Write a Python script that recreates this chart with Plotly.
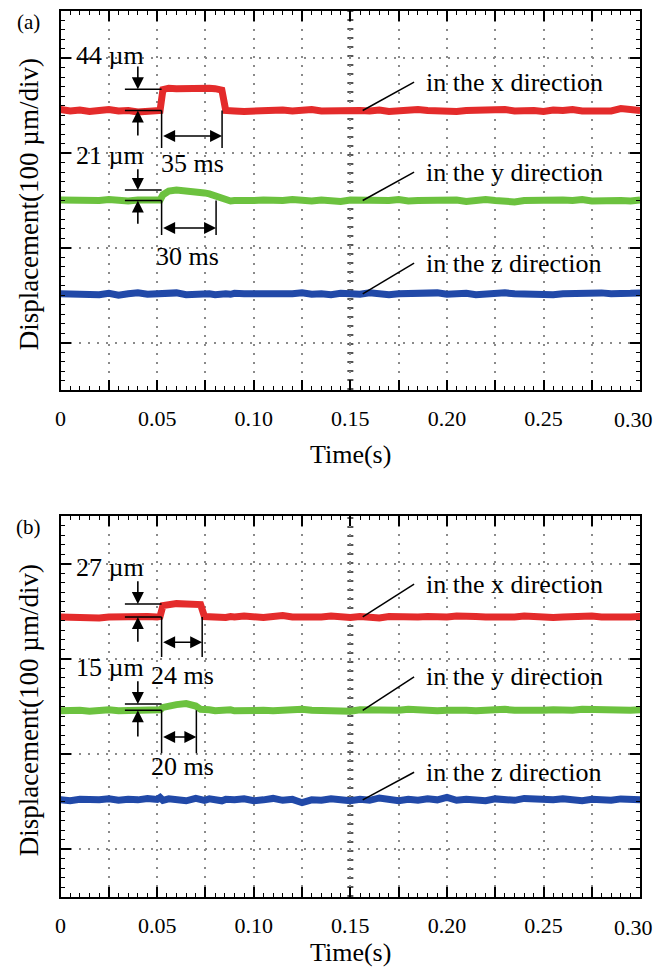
import plotly.graph_objects as go

# ---------------- data ----------------
TIME = [0, 0.005, 0.01, 0.015, 0.02, 0.025, 0.03, 0.035, 0.04, 0.045, 0.05,
        0.0515, 0.053, 0.056, 0.06, 0.065, 0.07, 0.0725, 0.0745, 0.077, 0.08,
        0.0835, 0.0855, 0.088, 0.09, 0.095,
        0.1, 0.105, 0.11, 0.115, 0.12, 0.125, 0.13, 0.135, 0.14, 0.145,
        0.15, 0.155, 0.16, 0.165, 0.17, 0.175, 0.18, 0.185, 0.19, 0.195,
        0.2, 0.205, 0.21, 0.215, 0.22, 0.225, 0.23, 0.235, 0.24, 0.245,
        0.25, 0.255, 0.26, 0.265, 0.27, 0.275, 0.28, 0.285, 0.29, 0.295, 0.3]

# panel (a), displacement in um (100 um per division)
X_DIR_A = [592, 589, 591, 588, 590, 592, 589, 590, 587, 588, 589,
           590, 634, 637, 636, 637, 636, 637, 636, 637, 636, 633, 590, 588, 589, 588,
           589, 590, 588, 591, 589, 590, 592, 589, 590, 588,
           591, 590, 589, 591, 588, 590, 589, 592, 590, 589,
           591, 588, 590, 591, 589, 590, 592, 589, 591, 590,
           588, 591, 590, 592, 589, 590, 591, 589, 594, 591, 590]
Y_DIR_A = [401, 400, 399, 401, 400, 402, 400, 399, 401, 400, 401,
           401, 412, 420, 422, 421, 419, 418, 416, 414, 410, 402, 400, 399, 400, 399,
           400, 401, 399, 400, 402, 400, 399, 401, 400, 398,
           401, 400, 399, 401, 400, 402, 399, 400, 401, 399,
           400, 401, 398, 400, 402, 400, 399, 397, 400, 401,
           399, 400, 401, 400, 402, 399, 400, 401, 400, 399, 401]
Z_DIR_A = [203, 202, 204, 203, 201, 204, 200, 203, 205, 202, 203,
           204, 202, 203, 205, 201, 203, 204, 202, 203, 201, 204, 203, 202, 204, 203,
           203, 201, 204, 202, 203, 205, 202, 203, 201, 204,
           203, 202, 205, 203, 201, 203, 204, 202, 203, 205,
           202, 203, 204, 201, 203, 202, 205, 203, 202, 204,
           203, 201, 203, 204, 202, 203, 205, 203, 202, 204, 205]

# panel (b)
X_DIR_B = [588, 587, 589, 588, 586, 588, 589, 587, 588, 589, 588,
           589, 612, 615, 616, 615, 616, 614, 589, 588, 590, 588, 587, 589, 588, 590,
           588, 587, 589, 591, 588, 587, 589, 588, 590, 588,
           587, 589, 588, 586, 589, 588, 590, 588, 589, 587,
           588, 590, 588, 589, 588, 587, 589, 588, 590, 588,
           589, 587, 588, 589, 588, 590, 588, 587, 589, 588, 589]
Y_DIR_B = [391, 393, 392, 390, 392, 393, 391, 392, 393, 392, 393,
           393, 398, 402, 404, 406, 401, 394, 392, 393, 391, 393, 392, 393, 391, 392,
           393, 392, 391, 393, 392, 394, 392, 391, 393, 392,
           390, 393, 392, 391, 393, 392, 394, 392, 393, 391,
           392, 393, 392, 391, 393, 392, 394, 392, 391, 393,
           392, 393, 391, 392, 394, 393, 392, 391, 393, 392, 393]
Z_DIR_B = [204, 202, 205, 203, 204, 206, 203, 205, 204, 207, 205,
           209, 203, 206, 204, 202, 207, 205, 203, 206, 204, 202, 205, 203, 204, 206,
           202, 204, 207, 203, 205, 198, 204, 203, 206, 204,
           202, 205, 203, 208, 204, 202, 205, 203, 206, 204,
           209, 203, 205, 204, 202, 206, 204, 203, 207, 205,
           203, 204, 206, 204, 202, 205, 204, 203, 206, 204, 204]

X_TICKS = [0, 0.025, 0.05, 0.075, 0.1, 0.125, 0.15, 0.175, 0.2, 0.225, 0.25, 0.275, 0.3]
X_TICKTEXT = ["0", "", "0.05", "", "0.10", "", "0.15", "", "0.20", "", "0.25", "", "0.30"]
SERIES_NAMES = ["in the x direction", "in the y direction", "in the z direction"]
PANEL_LABELS = ["(a)", "(b)"]

AMP_TEXT = [["44 \u00b5m", "21 \u00b5m"], ["27 \u00b5m", "15 \u00b5m"]]
DUR_TEXT = [["35 ms", "30 ms"], ["24 ms", "20 ms"]]

# ---------------- style / layout ----------------
COLORS = ["#e42b2b", "#6cc23f", "#2149a8"]
FONT = "Liberation Serif, Times New Roman, serif"

OFF = 8                     # page body margin
FIG_W, FIG_H = 663 - 2 * OFF, 977 - 2 * OFF
XL, XR = 55, 640            # plot area edges in page pixels
PANEL_PX = [(11, 390), (516, 897)]
YMAX = 800


def px_x(p):
    return (p - OFF) / FIG_W


def px_y(p):
    return 1 - (p - OFF) / FIG_H


fig = go.Figure()
shapes = []
annots = []

GEOM = [
    dict(base=[590, 400], top=[635, 422], down_tail=[686, 469], up_tail=[534, 348],
         t_end=[0.0836, 0.0805], vbot=[511, 327], dbl=[536, 342],
         amp_pos=[(0.0256, 707), (0.0256, 496)], dur_pos=[(0.0682, 479), (0.0656, 281)],
         base_z=203, lab_v=[650, 460, 268]),
    dict(base=[588, 392], top=[615, 405], down_tail=[666, 456], up_tail=[533, 334],
         t_end=[0.0733, 0.0703], vbot=[504, 302], dbl=[535, 336],
         amp_pos=[(0.0256, 691), (0.0256, 481)], dur_pos=[(0.0631, 466), (0.0631, 273)],
         base_z=204, lab_v=[657, 462, 262]),
]
DATA = [[X_DIR_A, Y_DIR_A, Z_DIR_A], [X_DIR_B, Y_DIR_B, Z_DIR_B]]

for p in range(2):
    sfx = "" if p == 0 else "2"
    xa, ya = "x" + sfx, "y" + sfx
    top_px, bot_px = PANEL_PX[p]
    dom_y = [px_y(bot_px), px_y(top_px)]
    dom_x = [px_x(XL), px_x(XR)]

    for s in range(3):
        fig.add_trace(go.Scatter(x=TIME, y=DATA[p][s], mode="lines",
                                 line=dict(color=COLORS[s], width=7),
                                 xaxis=xa, yaxis=ya, showlegend=False,
                                 hoverinfo="skip"))

    axis_common = dict(showline=True, linecolor="black", linewidth=2,
                       ticks="inside", tickcolor="black", tickwidth=1.5,
                       mirror="allticks", zeroline=False)
    # last label is drawn separately (right-aligned) so it stays inside the page
    fig.layout["xaxis" + sfx] = dict(
        domain=dom_x, range=[0, 0.3], anchor=ya,
        tickvals=X_TICKS, ticktext=X_TICKTEXT[:-1] + [""], ticklen=10,
        tickfont=dict(family=FONT, size=22, color="black"),
        ticklabelstandoff=8,
        showgrid=True, gridcolor="#8a8a8a", gridwidth=2, griddash="2px,7px",
        minor=dict(dtick=0.005, ticks="inside", ticklen=4, tickwidth=1,
                   tickcolor="black", showgrid=False),
        **axis_common)
    fig.layout["yaxis" + sfx] = dict(
        domain=dom_y, range=[0, YMAX], anchor=xa,
        tickvals=[100, 300, 500, 700], ticklen=10, showticklabels=False,
        showgrid=True, gridcolor="#8a8a8a", gridwidth=2, griddash="2px,7px",
        minor=dict(dtick=20, ticks="inside", ticklen=4, tickwidth=1,
                   tickcolor="black", showgrid=False),
        **axis_common)
    ov = "yaxis" + str(3 + p)
    fig.layout[ov] = dict(overlaying=ya, side="right", range=[0, YMAX], anchor=xa,
                          tickvals=[0, 200, 400, 600, 800], ticks="inside", ticklen=10,
                          tickwidth=1.5, tickcolor="black", showticklabels=False,
                          showgrid=False, showline=False, zeroline=False)

    annots.append(dict(x=1.0, y=px_y(bot_px + 30), xref="paper", yref="paper",
                       xanchor="right", yanchor="middle", text=X_TICKTEXT[-1],
                       showarrow=False, font=dict(family=FONT, size=22, color="black")))

    shapes.append(dict(type="line", xref=xa, yref=ya, x0=0.15, x1=0.15, y0=0, y1=YMAX,
                       line=dict(color="#555555", width=6, dash="2px,7px"), layer="below"))

    g = GEOM[p]
    tA, tB, tS = 0.0333, 0.0523, 0.040
    for k in range(2):
        base, top = g["base"][k], g["top"][k]
        for yy in (top, base):
            shapes.append(dict(type="line", xref=xa, yref=ya, x0=tA, x1=tB, y0=yy, y1=yy,
                               line=dict(color="black", width=1.5)))
        for tt in (tB, g["t_end"][k]):
            shapes.append(dict(type="line", xref=xa, yref=ya, x0=tt, x1=tt, y0=base,
                               y1=g["vbot"][k], line=dict(color="black", width=1.5)))
        arrow = dict(xref=xa, yref=ya, axref=xa, ayref=ya, text="", showarrow=True,
                     arrowhead=2, arrowsize=1.5, arrowwidth=1.6, arrowcolor="black")
        annots.append(dict(x=tS, y=top, ax=tS, ay=g["down_tail"][k], **arrow))
        annots.append(dict(x=tS, y=base, ax=tS, ay=g["up_tail"][k], **arrow))
        annots.append(dict(x=g["t_end"][k], y=g["dbl"][k], ax=tB, ay=g["dbl"][k],
                           arrowside="end+start", **arrow))
        ax_, ay_ = g["amp_pos"][k]
        annots.append(dict(x=ax_, y=ay_, xref=xa, yref=ya, text=AMP_TEXT[p][k],
                           xanchor="center", yanchor="middle", showarrow=False,
                           font=dict(family=FONT, size=26, color="black")))
        dx_, dy_ = g["dur_pos"][k]
        annots.append(dict(x=dx_, y=dy_, xref=xa, yref=ya, text=DUR_TEXT[p][k],
                           xanchor="center", yanchor="middle", showarrow=False,
                           font=dict(family=FONT, size=26, color="black")))

    bases = [g["base"][0], g["base"][1], g["base_z"]]
    for s in range(3):
        shapes.append(dict(type="line", xref=xa, yref=ya, x0=0.1564, x1=0.183,
                           y0=bases[s], y1=g["lab_v"][s], line=dict(color="black", width=1.5)))
        annots.append(dict(x=0.188, y=g["lab_v"][s], xref=xa, yref=ya, xanchor="left",
                           yanchor="middle", text=SERIES_NAMES[s], showarrow=False,
                           font=dict(family=FONT, size=26, color="black")))

    annots.append(dict(x=px_x(23), y=min(1.0, px_y(top_px - 3)), xref="paper", yref="paper",
                       xanchor="center", yanchor="top",
                       text=PANEL_LABELS[p], showarrow=False,
                       font=dict(family=FONT, size=21, color="black")))
    annots.append(dict(x=px_x(23), y=px_y((top_px + bot_px) / 2 + 4), xref="paper",
                       yref="paper", xanchor="center", yanchor="middle",
                       text="Displacement(100 \u00b5m/div)", textangle=-90,
                       showarrow=False, font=dict(family=FONT, size=27, color="black")))
    annots.append(dict(x=px_x(348), y=max(0.0, px_y(bot_px + 81)), xref="paper",
                       yref="paper", xanchor="center", yanchor="bottom",
                       text="Time(s)", showarrow=False,
                       font=dict(family=FONT, size=26, color="black")))

fig.update_layout(width=FIG_W, height=FIG_H, margin=dict(l=0, r=0, t=0, b=0),
                  paper_bgcolor="white", plot_bgcolor="white",
                  shapes=shapes, annotations=annots, showlegend=False)

fig.write_html("out.html")
